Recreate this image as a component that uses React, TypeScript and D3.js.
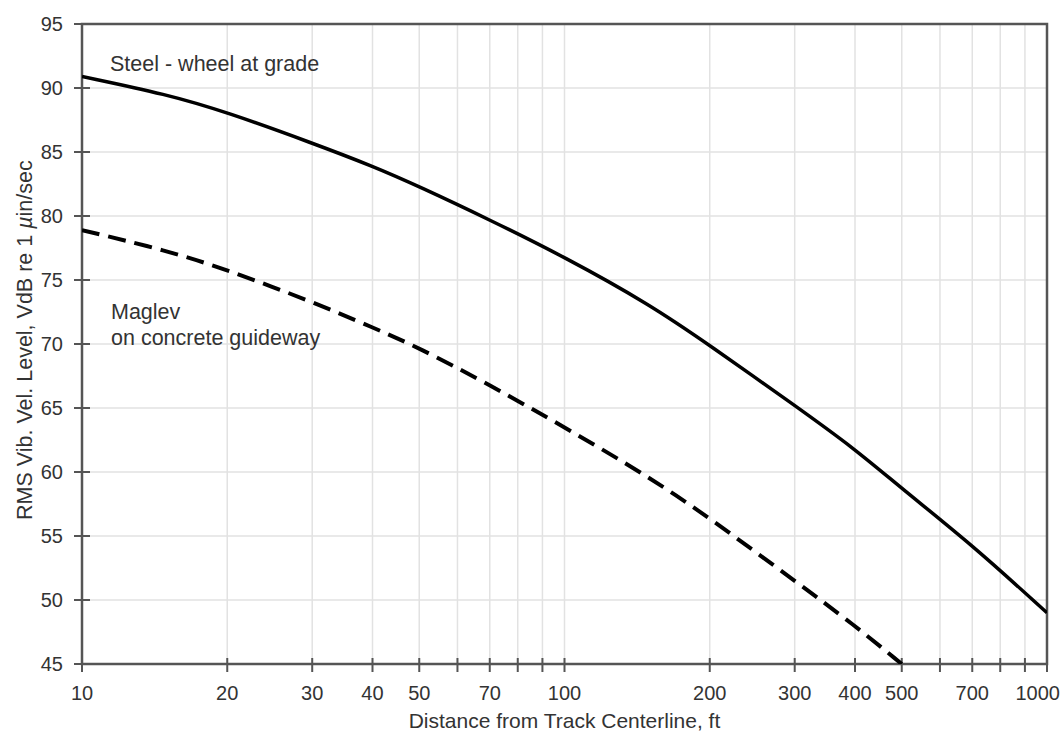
import React, { useEffect, useRef } from 'react';
import * as d3 from 'd3';

// distances (ft) where the curves were read
const distances = [10, 15, 20, 30, 40, 50, 70, 100, 150, 200, 300, 400, 500, 700, 1000];
// steel-wheel at grade, VdB
const steelValues = [90.9, 89.5, 88.1, 85.7, 83.9, 82.3, 79.7, 76.8, 73.1, 69.9, 65.2, 61.8, 58.7, 54.3, 49.0];
// maglev on concrete guideway, VdB (curve leaves the plot at 500 ft)
const maglevValues = [78.9, 77.3, 75.8, 73.3, 71.3, 69.7, 66.8, 63.5, 59.6, 56.4, 51.5, 48.0, 45.0];

const xGridValues = [10, 20, 30, 40, 50, 60, 70, 80, 90, 100, 200, 300, 400, 500, 600, 700, 800, 900, 1000];
const xLabelValues = [10, 20, 30, 40, 50, 70, 100, 200, 300, 400, 500, 700, 1000];
const yTickValues = [45, 50, 55, 60, 65, 70, 75, 80, 85, 90, 95];

const W = 1064;
const H = 736;
const margin = { top: 24, right: 17, bottom: 72, left: 82 };
const font = "'Liberation Sans', Arial, Helvetica, sans-serif";

const App = () => {
  const svgRef = useRef(null);

  useEffect(() => {
    const svg = d3.select(svgRef.current);
    svg.selectAll('*').remove();

    const x = d3.scaleLog().domain([10, 1000]).range([margin.left, W - margin.right]);
    const y = d3.scaleLinear().domain([45, 95]).range([H - margin.bottom, margin.top]);

    const x0 = x.range()[0], x1 = x.range()[1];
    const y0 = y.range()[0], y1 = y.range()[1];

    svg.append('rect').attr('width', W).attr('height', H).attr('fill', '#fff');

    svg.append('defs').append('clipPath').attr('id', 'plotClip')
      .append('rect').attr('x', x0).attr('y', y1).attr('width', x1 - x0).attr('height', y0 - y1);

    // grid
    const grid = svg.append('g').attr('stroke', '#e2e2e2').attr('stroke-width', 1.5);
    grid.selectAll('line.v').data(xGridValues).join('line')
      .attr('class', 'v')
      .attr('x1', d => x(d)).attr('x2', d => x(d))
      .attr('y1', y1).attr('y2', y0);
    grid.selectAll('line.h').data(yTickValues).join('line')
      .attr('class', 'h')
      .attr('x1', x0).attr('x2', x1)
      .attr('y1', d => y(d)).attr('y2', d => y(d));

    // frame
    svg.append('rect')
      .attr('x', x0).attr('y', y1).attr('width', x1 - x0).attr('height', y0 - y1)
      .attr('fill', 'none').attr('stroke', '#555').attr('stroke-width', 2.5);

    // ticks crossing the axes
    const ticks = svg.append('g').attr('stroke', '#555').attr('stroke-width', 2);
    ticks.selectAll('line.yt').data(yTickValues).join('line')
      .attr('class', 'yt')
      .attr('x1', x0 - 8).attr('x2', x0 + 8)
      .attr('y1', d => y(d)).attr('y2', d => y(d));
    ticks.selectAll('line.xt').data(xGridValues).join('line')
      .attr('class', 'xt')
      .attr('x1', d => x(d)).attr('x2', d => x(d))
      .attr('y1', y0 - 6).attr('y2', y0 + 8);

    // tick labels
    svg.append('g')
      .attr('font-family', font).attr('font-size', 20).attr('fill', '#333')
      .attr('text-anchor', 'end')
      .selectAll('text').data(yTickValues).join('text')
      .attr('x', x0 - 19).attr('y', d => y(d) + 7)
      .text(d => d);

    // last label is pulled in so it stays inside the page
    svg.append('g')
      .attr('font-family', font).attr('font-size', 20).attr('fill', '#333')
      .selectAll('text').data(xLabelValues).join('text')
      .attr('text-anchor', d => d === 1000 ? 'end' : 'middle')
      .attr('x', d => d === 1000 ? x(d) + 13 : x(d)).attr('y', y0 + 36)
      .text(d => d);

    // axis titles
    svg.append('text')
      .attr('x', (x0 + x1) / 2).attr('y', H - 8)
      .attr('text-anchor', 'middle')
      .attr('font-family', font).attr('font-size', 21).attr('fill', '#333')
      .text('Distance from Track Centerline, ft');

    const yTitle = svg.append('text')
      .attr('transform', `translate(32,${y(50) - 80}) rotate(-90)`)
      .attr('text-anchor', 'start')
      .attr('font-family', font).attr('font-size', 21.5).attr('fill', '#333');
    yTitle.append('tspan').text('RMS Vib. Vel. Level, VdB re 1 ');
    yTitle.append('tspan').attr('font-style', 'italic').text('\u00b5');
    yTitle.append('tspan').text('in/sec');

    // curves
    const line = d3.line()
      .x(d => x(d[0]))
      .y(d => y(d[1]))
      .curve(d3.curveBasis);

    const plot = svg.append('g').attr('clip-path', 'url(#plotClip)');

    plot.append('path')
      .datum(distances.map((d, i) => [d, steelValues[i]]))
      .attr('d', line)
      .attr('fill', 'none').attr('stroke', '#000').attr('stroke-width', 3.5);

    plot.append('path')
      .datum(maglevValues.map((v, i) => [distances[i], v]))
      .attr('d', line)
      .attr('fill', 'none').attr('stroke', '#000').attr('stroke-width', 4)
      .attr('stroke-dasharray', '18 9');

    // annotations
    const notes = svg.append('g').attr('font-family', font).attr('font-size', 21.5).attr('fill', '#333');
    notes.append('text').attr('x', 110).attr('y', 71).text('Steel - wheel at grade');
    notes.append('text').attr('x', 111).attr('y', 319).text('Maglev');
    notes.append('text').attr('x', 111).attr('y', 345).text('on concrete guideway');
  }, []);

  return (
    <div style={{ position: 'absolute', left: 0, top: 0 }}>
      <svg ref={svgRef} width={W} height={H} style={{ display: 'block' }}></svg>
    </div>
  );
};

export default App;
